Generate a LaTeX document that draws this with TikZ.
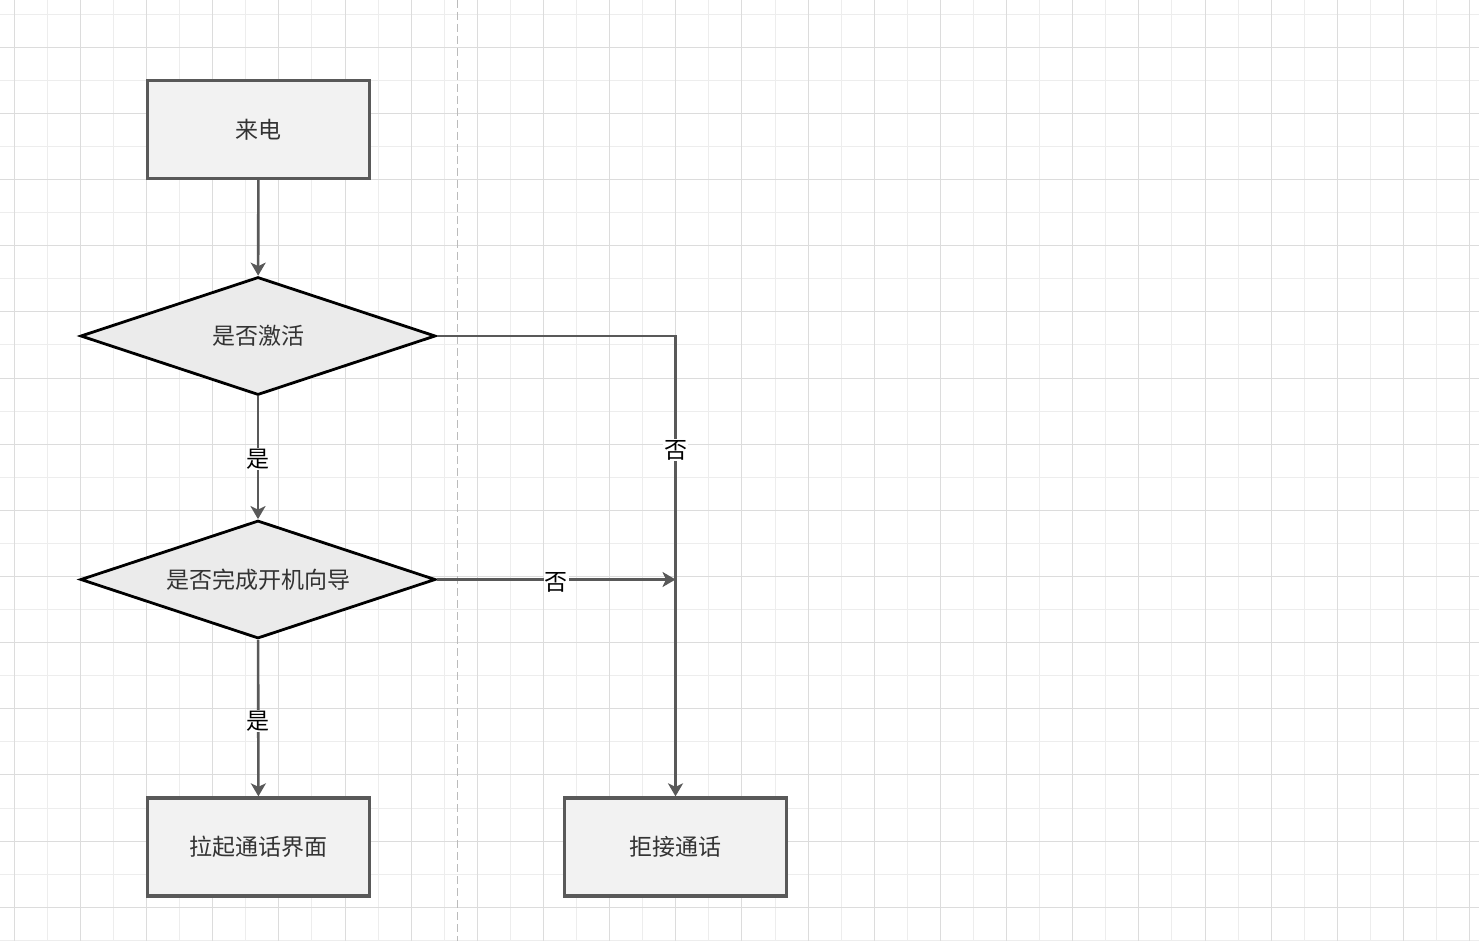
\documentclass[tikz,border=0pt]{standalone}
\usepackage{fontspec}
\setmainfont{Noto Sans CJK SC}
\usetikzlibrary{shapes.geometric,arrows.meta}
\definecolor{gridlight}{HTML}{EDEDED}
\definecolor{griddark}{HTML}{DCDCDC}
\definecolor{edgegray}{HTML}{595959}
\definecolor{boxfill}{HTML}{F2F2F2}
\definecolor{dfill}{HTML}{EBEBEB}
\definecolor{txtgray}{HTML}{333333}
\definecolor{dashgray}{HTML}{BBBBBB}
\tikzset{
  procbox/.style={rectangle, draw=edgegray, line width=3.3pt, fill=boxfill,
    minimum width=222pt, minimum height=98pt, inner sep=0pt,
    font=\fontsize{23}{26}\selectfont, text=txtgray},
  decision/.style={diamond, draw=black, line width=2.8pt, fill=dfill,
    minimum width=355pt, minimum height=118pt, inner sep=0pt},
  dtext/.style={inner sep=0pt, font=\fontsize{23}{26}\selectfont, text=txtgray},
  arr/.style={draw=edgegray, line width=2.6pt,
    -{Stealth[length=13pt,width=15pt,inset=3.5pt]}},
  lbl/.style={fill=white, inner sep=1pt, text=black,
    font=\fontsize{23}{26}\selectfont}
}
\begin{document}
\begin{tikzpicture}[x=1pt,y=-1pt]
\useasboundingbox (0,0) rectangle (1479,941);
\fill[white] (0,0) rectangle (1479,941);
% grid
\foreach \k in {0,...,44} {
  \draw[gridlight, line width=1pt] ({14.3+33.075*\k},0) -- ({14.3+33.075*\k},941);
}
\foreach \k in {0,...,28} {
  \draw[gridlight, line width=1pt] (0,{14.2+33.075*\k}) -- (1479,{14.2+33.075*\k});
}
\foreach \k in {0,...,22} {
  \draw[griddark, line width=1pt] ({14.3+66.15*\k},0) -- ({14.3+66.15*\k},941);
}
\foreach \k in {0,...,13} {
  \draw[griddark, line width=1pt] (0,{47.3+66.15*\k}) -- (1479,{47.3+66.15*\k});
}
% separator
\draw[dashgray, line width=1pt, dash pattern=on 8pt off 4pt] (457.5,0) -- (457.5,941);
% nodes
\node[procbox] (b1) at (258.5,129.5) {\raisebox{-3.5pt}{来电}};
\node[decision, label={[dtext]center:\raisebox{-3.5pt}{是否激活}}] (d1) at (258,336) {};
\node[decision, label={[dtext]center:\raisebox{-3.5pt}{是否完成开机向导}}] (d2) at (258,579.5) {};
\node[procbox] (b2) at (258.5,847) {\raisebox{-3.5pt}{拉起通话界面}};
\node[procbox] (b3) at (675.5,847) {\raisebox{-3.5pt}{拒接通话}};
\coordinate (m) at (675.5,579.5);
% edges
\draw[arr] (b1) -- (d1);
\draw[arr] (d1) -- node[lbl, pos=0.51]{是} (d2);
\draw[arr] (d2) -- node[lbl, pos=0.52]{是} (b2);
\draw[arr] (d1.east) -| node[lbl, pos=0.624]{否} (b3.north);
\draw[arr] (d2.east) -- node[lbl, yshift=-3pt]{否} (m);
\end{tikzpicture}
\end{document}
